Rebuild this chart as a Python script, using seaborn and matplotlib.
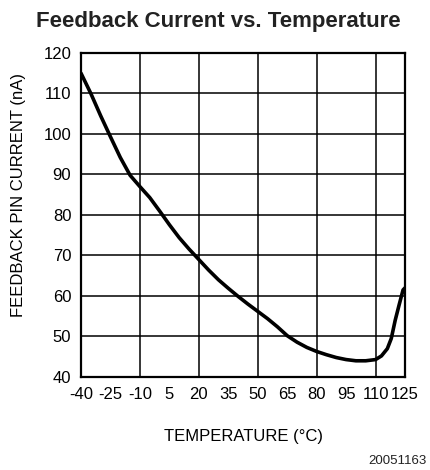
import matplotlib
matplotlib.use("Agg")
import matplotlib.pyplot as plt
import seaborn as sns
import pandas as pd

temperature = [-40, -35, -30, -25, -20, -15, -10, -5, 0, 5, 10, 15, 20, 25, 30, 35, 40,
               45, 50, 55, 60, 65, 70, 75, 80, 85, 90, 95, 100, 105, 110, 113, 116,
               118, 120, 122, 124, 125]
current_na = [115, 110, 104.5, 99.3, 94.2, 89.8, 87, 84.3, 81, 77.6, 74.4, 71.6, 69,
              66.4, 64, 61.9, 59.9, 58, 56.2, 54.4, 52.4, 50.2, 48.6, 47.3, 46.3, 45.5,
              44.8, 44.3, 44.0, 44.0, 44.3, 45.2, 47.0, 49.5, 54.0, 57.8, 61.5, 62.0]
x_ticks = [-40, -25, -10, 5, 20, 35, 50, 65, 80, 95, 110, 125]
x_grid = [-10, 20, 50, 80, 110]
y_ticks = [40, 50, 60, 70, 80, 90, 100, 110, 120]

df = pd.DataFrame({"T": temperature, "I": current_na})

sns.set_style("white")
plt.rcParams['font.family'] = ['Liberation Sans', 'DejaVu Sans']

fig = plt.figure(figsize=(4.3, 4.7), dpi=100)
ax = fig.add_axes([0.1884, 0.1979, 0.7535, 0.6894])

sns.lineplot(data=df, x="T", y="I", ax=ax, color="black", linewidth=2.6, zorder=3)

ax.set_xlim(-40, 125)
ax.set_ylim(40, 120)
ax.set_xticks(x_ticks)
ax.set_yticks(y_ticks)
ax.set_xticklabels([str(v) for v in x_ticks])
ax.tick_params(axis="both", which="both", length=0, labelsize=12, colors="black")
ax.tick_params(axis="x", pad=7)
ax.tick_params(axis="y", pad=7)
ax.grid(False)
for xv in x_grid:
    ax.axvline(xv, color="black", linewidth=1.1, zorder=1)
for yv in y_ticks[1:-1]:
    ax.axhline(yv, color="black", linewidth=1.1, zorder=1)
for s in ax.spines.values():
    s.set_color("black")
    s.set_linewidth(1.6)

ax.set_xlabel("TEMPERATURE (°C)", fontsize=12, color="black")
ax.set_ylabel("FEEDBACK PIN CURRENT (nA)", fontsize=12, color="black")
ax.xaxis.set_label_coords(0.5, -0.185)
ax.yaxis.set_label_coords(-0.194, 0.562)
ax.xaxis.label.set_va("center")
ax.yaxis.label.set_va("center")

fig.text(0.507, 0.943, "Feedback Current vs. Temperature", ha="center", va="baseline",
         fontsize=16, fontweight="bold", color="#222222")
fig.text(0.991, 0.013, "20051163", ha="right", va="baseline", fontsize=9.5,
         color="#222222")

fig.savefig("out.png", dpi=100)
